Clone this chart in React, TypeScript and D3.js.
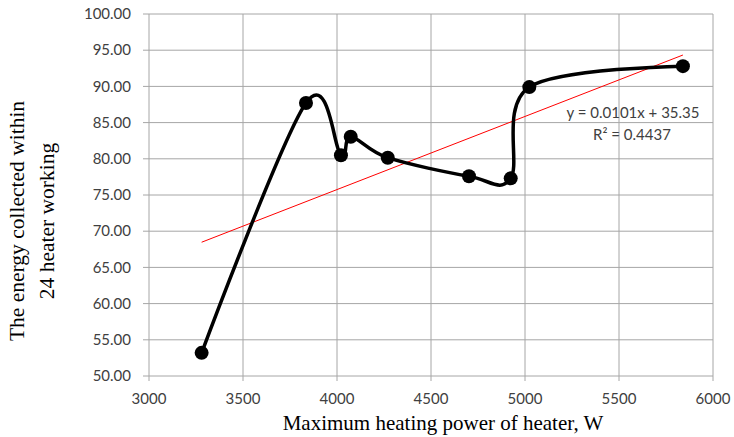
import React, { useEffect, useRef } from "react";
import * as d3 from "d3";

// heater power (W) vs energy collected within 24 h heater working
const powerW = [3280, 3835, 4021, 4073, 4270, 4702, 4924, 5023, 5840];
const energy = [53.2, 87.7, 80.5, 83.05, 80.15, 77.6, 77.3, 89.9, 92.8];
const xTicks = [3000, 3500, 4000, 4500, 5000, 5500, 6000];
const yTicks = [50, 55, 60, 65, 70, 75, 80, 85, 90, 95, 100];
const trendSlope = 0.0101;
const trendIntercept = 35.35;
const trendLabel = "y = 0.0101x + 35.35";
const r2Label = "R² = 0.4437";

export default function App() {
  const ref = useRef<SVGSVGElement>(null);

  useEffect(() => {
    const left = 149, right = 713, top = 14, bottom = 376;
    const svg = d3.select(ref.current);
    svg.selectAll("*").remove();

    const x = d3.scaleLinear().domain([3000, 6000]).range([left, right]);
    const y = d3.scaleLinear().domain([50, 100]).range([bottom, top]);
    const grid = "#a6a6a6";
    const labelFont = "Lato, 'Open Sans', sans-serif";
    const serif = "'Liberation Serif', 'Times New Roman', serif";

    // gridlines (with small tick marks past the axes)
    svg.append("g")
      .selectAll("line")
      .data(xTicks)
      .join("line")
      .attr("x1", d => x(d)).attr("x2", d => x(d))
      .attr("y1", top).attr("y2", bottom + 5)
      .attr("stroke", grid).attr("stroke-width", 1);

    svg.append("g")
      .selectAll("line")
      .data(yTicks)
      .join("line")
      .attr("x1", left - 6).attr("x2", right)
      .attr("y1", d => y(d)).attr("y2", d => y(d))
      .attr("stroke", grid).attr("stroke-width", 1);

    // tick labels
    svg.append("g")
      .selectAll("text")
      .data(yTicks)
      .join("text")
      .attr("x", left - 18)
      .attr("y", d => y(d))
      .attr("dy", "0.35em")
      .attr("text-anchor", "end")
      .attr("font-family", labelFont)
      .attr("font-size", 15)
      .attr("fill", "#404040")
      .text(d => d.toFixed(2));

    svg.append("g")
      .selectAll("text")
      .data(xTicks)
      .join("text")
      .attr("x", d => x(d))
      .attr("y", 404)
      .attr("text-anchor", "middle")
      .attr("font-family", labelFont)
      .attr("font-size", 15)
      .attr("fill", "#404040")
      .text(d => d);

    // linear trendline
    const tx = d3.extent(powerW) as [number, number];
    svg.append("line")
      .attr("x1", x(tx[0])).attr("y1", y(trendSlope * tx[0] + trendIntercept))
      .attr("x2", x(tx[1])).attr("y2", y(trendSlope * tx[1] + trendIntercept))
      .attr("stroke", "#ff0000").attr("stroke-width", 1);

    // smoothed series line
    const pts = powerW.map((p, i) => [p, energy[i]] as [number, number]);
    const line = d3.line<[number, number]>()
      .x(d => x(d[0]))
      .y(d => y(d[1]))
      .curve(d3.curveCardinal.tension(0));
    svg.append("path")
      .attr("d", line(pts))
      .attr("fill", "none")
      .attr("stroke", "#000")
      .attr("stroke-width", 3.5);

    svg.append("g")
      .selectAll("circle")
      .data(pts)
      .join("circle")
      .attr("cx", d => x(d[0]))
      .attr("cy", d => y(d[1]))
      .attr("r", 7)
      .attr("fill", "#000");

    // equation
    svg.append("text")
      .attr("x", 633).attr("y", 118)
      .attr("text-anchor", "middle")
      .attr("font-family", labelFont)
      .attr("font-size", 15)
      .attr("fill", "#404040")
      .text(trendLabel);
    svg.append("text")
      .attr("x", 632).attr("y", 140)
      .attr("text-anchor", "middle")
      .attr("font-family", labelFont)
      .attr("font-size", 15)
      .attr("fill", "#404040")
      .text(r2Label);

    // axis titles
    svg.append("text")
      .attr("x", 443)
      .attr("y", 430)
      .attr("text-anchor", "middle")
      .attr("font-family", serif)
      .attr("font-size", 21)
      .attr("fill", "#000")
      .text("Maximum heating power of heater, W");

    const yt = svg.append("text")
      .attr("transform", "translate(0, 221) rotate(-90)")
      .attr("text-anchor", "middle")
      .attr("font-family", serif)
      .attr("font-size", 21.5)
      .attr("fill", "#000");
    yt.append("tspan").attr("x", 0).attr("y", 24).text("The energy collected within");
    yt.append("tspan").attr("x", 0).attr("y", 54).text("24 heater working");
  }, []);

  return (
    <svg
      ref={ref}
      width={734}
      height={437}
      style={{ position: "absolute", left: 0, top: 0, background: "#fff" }}
    />
  );
}
